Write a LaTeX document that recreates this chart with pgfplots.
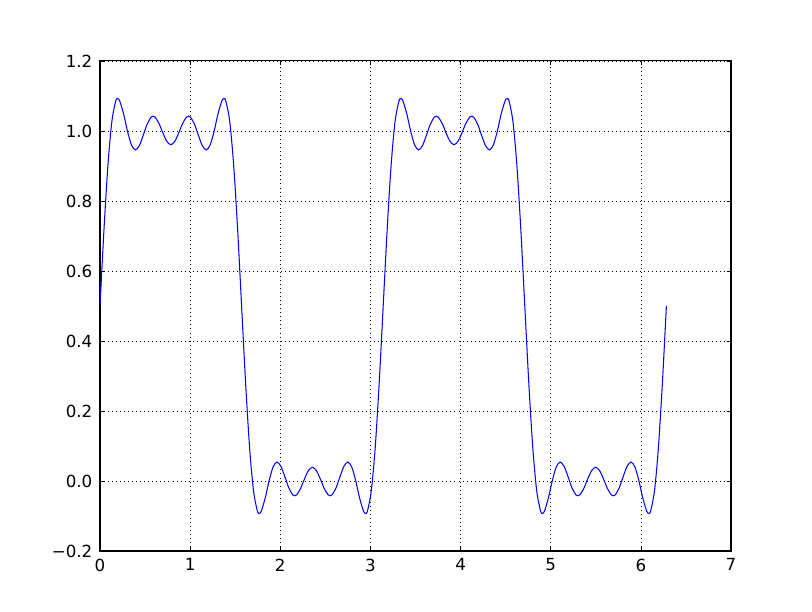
\documentclass[border=0pt]{standalone}
\usepackage{pgfplots}
\pgfplotsset{compat=1.18}
\usepackage{pgfplotstable}
\usepackage{fontspec}
\setmainfont{DejaVu Sans}

% t = phase angle in degrees (x = t*pi/360), y = partial Fourier sum
\pgfplotstableread{
t y
0 0.5000
5 0.7164
10 0.8997
15 1.0257
20 1.0854
22.5 1.0921
25 1.0862
30 1.0487
35 0.9988
40 0.9599
45 0.9459
50 0.9583
55 0.9880
60 1.0198
65 1.0396
67.5 1.0423
70 1.0397
75 1.0214
80 0.9939
85 0.9701
90 0.9608
95 0.9701
100 0.9939
105 1.0214
110 1.0397
112.5 1.0423
115 1.0396
120 1.0198
125 0.9880
130 0.9583
135 0.9459
140 0.9599
145 0.9988
150 1.0487
155 1.0862
157.5 1.0921
160 1.0854
165 1.0257
170 0.8997
175 0.7164
180 0.5000
185 0.2836
190 0.1003
195 -0.0257
200 -0.0854
202.5 -0.0921
205 -0.0862
210 -0.0487
215 0.0012
220 0.0401
225 0.0541
230 0.0417
235 0.0120
240 -0.0198
245 -0.0396
247.5 -0.0423
250 -0.0397
255 -0.0214
260 0.0061
265 0.0299
270 0.0392
275 0.0299
280 0.0061
285 -0.0214
290 -0.0397
292.5 -0.0423
295 -0.0396
300 -0.0198
305 0.0120
310 0.0417
315 0.0541
320 0.0401
325 0.0012
330 -0.0487
335 -0.0862
337.5 -0.0921
340 -0.0854
345 -0.0257
350 0.1003
355 0.2836
360 0.5000
365 0.7164
370 0.8997
375 1.0257
380 1.0854
382.5 1.0921
385 1.0862
390 1.0487
395 0.9988
400 0.9599
405 0.9459
410 0.9583
415 0.9880
420 1.0198
425 1.0396
427.5 1.0423
430 1.0397
435 1.0214
440 0.9939
445 0.9701
450 0.9608
455 0.9701
460 0.9939
465 1.0214
470 1.0397
472.5 1.0423
475 1.0396
480 1.0198
485 0.9880
490 0.9583
495 0.9459
500 0.9599
505 0.9988
510 1.0487
515 1.0862
517.5 1.0921
520 1.0854
525 1.0257
530 0.8997
535 0.7164
540 0.5000
545 0.2836
550 0.1003
555 -0.0257
560 -0.0854
562.5 -0.0921
565 -0.0862
570 -0.0487
575 0.0012
580 0.0401
585 0.0541
590 0.0417
595 0.0120
600 -0.0198
605 -0.0396
607.5 -0.0423
610 -0.0397
615 -0.0214
620 0.0061
625 0.0299
630 0.0392
635 0.0299
640 0.0061
645 -0.0214
650 -0.0397
652.5 -0.0423
655 -0.0396
660 -0.0198
665 0.0120
670 0.0417
675 0.0541
680 0.0401
685 0.0012
690 -0.0487
695 -0.0862
697.5 -0.0921
700 -0.0854
705 -0.0257
710 0.1003
715 0.2836
720 0.5000
}\wave

\begin{document}
\begin{tikzpicture}
\begin{axis}[
    scale only axis,
    width=454.3pt, height=352.8pt,
    xmin=0, xmax=7, ymin=-0.2, ymax=1.2,
    xtick={0,1,...,7},
    ytick={-0.2,0,0.2,0.4,0.6,0.8,1.0,1.2},
    yticklabels={−0.2,0.0,0.2,0.4,0.6,0.8,1.0,1.2},
    /pgf/number format/assume math mode=true,
    tick label style={font=\fontsize{12}{14}\selectfont},
    tick align=inside,
    major tick length=2.9pt,
    tick style={black, line width=0.5pt},
    axis line style={line width=0.75pt},
    grid=major,
    major grid style={black, line width=0.4pt, dash pattern=on 0.7pt off 2.2pt},
    xticklabel style={yshift=-2pt},
    yticklabel style={xshift=-2pt},
]
\addplot[color={rgb,1:red,0;green,0;blue,1}, line width=0.75pt, smooth]
    table[x expr=\thisrow{t}*0.00872665, y=y] {\wave};
\end{axis}
\path (-72pt,-43.9pt) rectangle (512.6pt,396.7pt);
\end{tikzpicture}
\end{document}
